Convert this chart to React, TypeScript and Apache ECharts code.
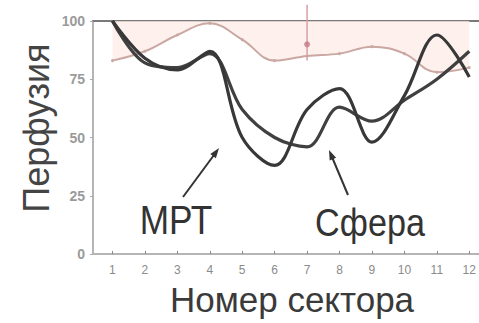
import React, { useEffect, useRef } from "react";
import * as echarts from "echarts";

const sectors = [1, 2, 3, 4, 5, 6, 7, 8, 9, 10, 11, 12];
const mrtValues = [100, 84, 79, 87, 50, 38, 62, 71, 48, 68, 94, 76];
const sphereValues = [100, 82, 80, 86, 62, 50, 46, 63, 57, 66, 75, 87];
const normValues = [83, 87, 94, 99, 92, 83, 85, 86, 89, 86, 78, 80];
const errorBar = { sector: 7, mean: 90, low: 83, high: 107 };
const yTicks = [0, 25, 50, 75, 100];

const FONT = "'Liberation Sans', Arial, sans-serif";

export default function App() {
  const ref = useRef<HTMLDivElement>(null);
  useEffect(() => {
    if (!ref.current) return;
    const chart = echarts.init(ref.current, null, { renderer: "svg" });
    const pts = (vals: number[]) => sectors.map((s, i) => [s, vals[i]]);
    chart.setOption({
      animation: false,
      backgroundColor: "#ffffff",
      grid: { left: 93, right: 0, top: 21, bottom: 69 },
      xAxis: [
        {
          type: "value",
          min: 0.4,
          max: 12.3,
          axisLine: { show: true, lineStyle: { color: "#b5b5b5", width: 2 } },
          axisTick: {
            show: true,
            inside: true,
            length: 3,
            customValues: sectors,
            lineStyle: { color: "#888" },
          },
          axisLabel: {
            show: true,
            customValues: sectors,
            color: "#8a8a8a",
            fontSize: 12,
            fontFamily: FONT,
            margin: 10,
          },
          splitLine: { show: false },
        },
        {
          type: "value",
          position: "top",
          min: 0.4,
          max: 12.3,
          axisLine: { show: true, onZero: false, lineStyle: { color: "#7a7a7a", width: 2 } },
          axisTick: { show: false },
          axisLabel: { show: false },
          splitLine: { show: false },
        },
      ],
      yAxis: {
        type: "value",
        min: 0,
        max: 100,
        interval: 25,
        axisLine: { show: true, lineStyle: { color: "#b5b5b5", width: 2 } },
        axisTick: { show: true, length: 3, lineStyle: { color: "#aaa" } },
        axisLabel: {
          color: "#9a9a9a",
          fontSize: 14,
          fontWeight: "bold",
          fontFamily: FONT,
          margin: 8,
          customValues: yTicks,
        },
        splitLine: { show: false },
      },
      series: [
        {
          name: "norm",
          type: "line",
          data: pts(normValues),
          smooth: 0.4,
          symbol: "circle",
          symbolSize: 3,
          lineStyle: { color: "#c9a8a2", width: 2 },
          itemStyle: { color: "#c9a8a2" },
          areaStyle: { origin: "end", color: "#fcebe7", opacity: 0.75 },
          z: 1,
        },
        {
          name: "errbar",
          type: "line",
          data: [
            [errorBar.sector, errorBar.high],
            [errorBar.sector, errorBar.low],
          ],
          clip: false,
          symbol: "none",
          lineStyle: { color: "#d8a0a6", width: 1.5 },
          z: 2,
        },
        {
          name: "errmean",
          type: "scatter",
          data: [[errorBar.sector, errorBar.mean]],
          symbolSize: 6,
          itemStyle: { color: "#c47a86" },
          z: 3,
        },
        {
          name: "Сфера",
          type: "line",
          data: pts(sphereValues),
          smooth: 0.35,
          symbol: "none",
          lineStyle: { color: "#404040", width: 3.2 },
          z: 4,
        },
        {
          name: "МРТ",
          type: "line",
          data: pts(mrtValues),
          smooth: 0.35,
          symbol: "none",
          lineStyle: { color: "#383838", width: 3.2 },
          z: 5,
        },
      ],
      graphic: [
        {
          type: "text",
          x: 36,
          y: 128,
          rotation: Math.PI / 2,
          style: {
            text: "Перфузия",
            x: 0,
            y: 0,
            fill: "#444",
            font: `36px ${FONT}`,
            textAlign: "center",
            textVerticalAlign: "middle",
          },
        },
        {
          type: "text",
          x: 292,
          y: 299,
          style: {
            text: "Номер сектора",
            x: 0,
            y: 0,
            fill: "#3a3a3a",
            font: `35px ${FONT}`,
            textAlign: "center",
            textVerticalAlign: "middle",
          },
        },
        {
          type: "text",
          x: 176,
          y: 220,
          scaleX: 0.88,
          style: {
            text: "МРТ",
            x: 0,
            y: 0,
            fill: "#333",
            font: `40px ${FONT}`,
            textAlign: "center",
            textVerticalAlign: "middle",
          },
        },
        {
          type: "text",
          x: 370,
          y: 223,
          scaleX: 0.9,
          style: {
            text: "Сфера",
            x: 0,
            y: 0,
            fill: "#333",
            font: `38px ${FONT}`,
            textAlign: "center",
            textVerticalAlign: "middle",
          },
        },
        {
          type: "line",
          shape: { x1: 183, y1: 197, x2: 214, y2: 155 },
          style: { stroke: "#333", lineWidth: 2 },
        },
        {
          type: "polygon",
          shape: { points: [[219, 148], [215.9, 158.2], [210.3, 154.0]] },
          style: { fill: "#333" },
        },
        {
          type: "line",
          shape: { x1: 348, y1: 195, x2: 332, y2: 157 },
          style: { stroke: "#333", lineWidth: 2 },
        },
        {
          type: "polygon",
          shape: { points: [[329, 150], [336.1, 157.8], [329.7, 160.6]] },
          style: { fill: "#333" },
        },
      ],
    });
    return () => chart.dispose();
  }, []);
  return (
    <div
      ref={ref}
      style={{ position: "fixed", left: 0, top: 0, width: 479, height: 323 }}
    />
  );
}
